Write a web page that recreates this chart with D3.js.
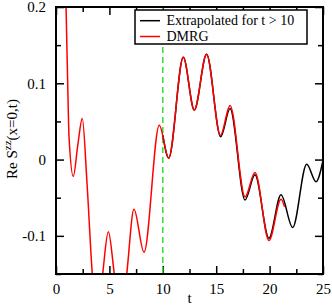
<!DOCTYPE html>
<html><head><meta charset="utf-8">
<script src="https://cdn.jsdelivr.net/npm/d3@7"></script>
<style>
html,body{margin:0;padding:0;background:#fff;}
svg text{font-family:"Liberation Serif","Times New Roman",serif !important;fill:#000;}
</style></head>
<body><svg id="c" width="332" height="307"></svg>
<script>
// DMRG data (red)
const dmrgT = [0.85,0.94,1.08,1.22,1.62,2.05,2.46,2.9,3.4,3.9,4.37,4.9,5.46,6.05,6.62,7.3,8.24,9.67,10.55,11.92,12.95,14.1,15.4,16.3,17.7,18.63,19.94,21.07,21.4];
const dmrgY = [0.27,0.2,0.11,0.03,-0.022,0.02,0.054,-0.03,-0.15,-0.21,-0.15,-0.0945,-0.15,-0.21,-0.15,-0.065,-0.1215,0.045,0.002,0.134,0.065,0.138,0.032,0.071,-0.049,-0.017,-0.106,-0.052,-0.062];
// Extrapolated data (black), t > 10
const extT = [10,10.55,11.92,12.95,14.1,15.42,16.3,17.7,18.63,19.94,21.07,22.16,23.47,24.35,25];
const extY = [0.032,0.002,0.134,0.065,0.138,0.030,0.067,-0.053,-0.020,-0.103,-0.046,-0.089,-0.006,-0.029,-0.001];
const xMajor = [0,5,10,15,20,25];
const xMinor = [2.5,7.5,12.5,17.5,22.5];
const yMajor = [-0.1,0,0.1,0.2];
const yMinor = [-0.15,-0.05,0.05,0.15];
const yTickLabels = ["-0.1","0","0.1","0.2"];
const legendLabels = ["Extrapolated for t > 10","DMRG"];
const dividerT = 10;

const svg = d3.select("#c");
const L=56,R=323,T=7,B=274;
const x = d3.scaleLinear().domain([0,25]).range([L,R]);
const y = d3.scaleLinear().domain([-0.15,0.2]).range([B,T]);

svg.append("clipPath").attr("id","clip").append("rect")
  .attr("x",L).attr("y",T).attr("width",R-L).attr("height",B-T);

function styleAxis(g){ g.attr("font-family",null); g.select(".domain").remove(); g.selectAll(".tick line").attr("stroke","#000").attr("stroke-width",1.5); }
// bottom
const bx = svg.append("g").attr("transform",`translate(0,${B})`)
  .call(d3.axisBottom(x).tickValues(xMajor).tickSize(-8).tickPadding(9).tickFormat(d3.format("d")));
styleAxis(bx); bx.selectAll("text").attr("font-size",15);
const bxm = svg.append("g").attr("transform",`translate(0,${B})`).call(d3.axisBottom(x).tickValues(xMinor).tickSize(-5).tickFormat(""));
styleAxis(bxm);
// top
const tx = svg.append("g").attr("transform",`translate(0,${T})`).call(d3.axisTop(x).tickValues(xMajor).tickSize(-8).tickFormat(""));
styleAxis(tx);
const txm = svg.append("g").attr("transform",`translate(0,${T})`).call(d3.axisTop(x).tickValues(xMinor).tickSize(-5).tickFormat(""));
styleAxis(txm);
// left
const ly = svg.append("g").attr("transform",`translate(${L},0)`)
  .call(d3.axisLeft(y).tickValues(yMajor).tickSize(-8).tickPadding(10).tickFormat((d,i)=>yTickLabels[i]));
styleAxis(ly); ly.selectAll("text").attr("font-size",15);
const lym = svg.append("g").attr("transform",`translate(${L},0)`).call(d3.axisLeft(y).tickValues(yMinor).tickSize(-5).tickFormat(""));
styleAxis(lym);
// right
const ry = svg.append("g").attr("transform",`translate(${R},0)`).call(d3.axisRight(y).tickValues(yMajor).tickSize(-8).tickFormat(""));
styleAxis(ry);
const rym = svg.append("g").attr("transform",`translate(${R},0)`).call(d3.axisRight(y).tickValues(yMinor).tickSize(-5).tickFormat(""));
styleAxis(rym);

// dashed divider
svg.append("line").attr("x1",x(dividerT)).attr("x2",x(dividerT)).attr("y1",T).attr("y2",B)
  .attr("stroke","#33dd33").attr("stroke-width",1.5).attr("stroke-dasharray","6,4");

const line = d3.line().x(d=>x(d[0])).y(d=>y(d[1])).curve(d3.curveMonotoneX);
const plot = svg.append("g").attr("clip-path","url(#clip)");
plot.append("path").datum(extT.map((t,i)=>[t,extY[i]])).attr("d",line)
  .attr("fill","none").attr("stroke","#000").attr("stroke-width",1.5);
plot.append("path").datum(dmrgT.map((t,i)=>[t,dmrgY[i]])).attr("d",line)
  .attr("fill","none").attr("stroke","#ff0000").attr("stroke-width",1.5);

// frame
svg.append("rect").attr("x",L).attr("y",T).attr("width",R-L).attr("height",B-T)
  .attr("fill","none").attr("stroke","#000").attr("stroke-width",2);

// legend
const lg = svg.append("g");
lg.append("rect").attr("x",135).attr("y",10).attr("width",172).attr("height",34)
  .attr("fill","#fff").attr("stroke","#000").attr("stroke-width",1.5);
const lcol = ["#000","#ff0000"];
[20.7,36.5].forEach((yy,i)=>{
  lg.append("line").attr("x1",140).attr("x2",160).attr("y1",yy).attr("y2",yy).attr("stroke",lcol[i]).attr("stroke-width",1.5);
  lg.append("text").attr("x",166.5).attr("y",yy+4.5).attr("font-size",14).text(legendLabels[i]);
});

// axis labels
svg.append("text").attr("x",x(12.5)).attr("y",303).attr("text-anchor","middle").attr("font-size",15).text("t");
const yl = svg.append("text").attr("transform","translate(17,139) rotate(-90)").attr("text-anchor","middle").attr("font-size",15);
yl.append("tspan").text("Re S");
yl.append("tspan").attr("font-size",11).attr("dy",-6).text("zz");
yl.append("tspan").attr("dy",6).text("(x=0,t)");
</script></body></html>
